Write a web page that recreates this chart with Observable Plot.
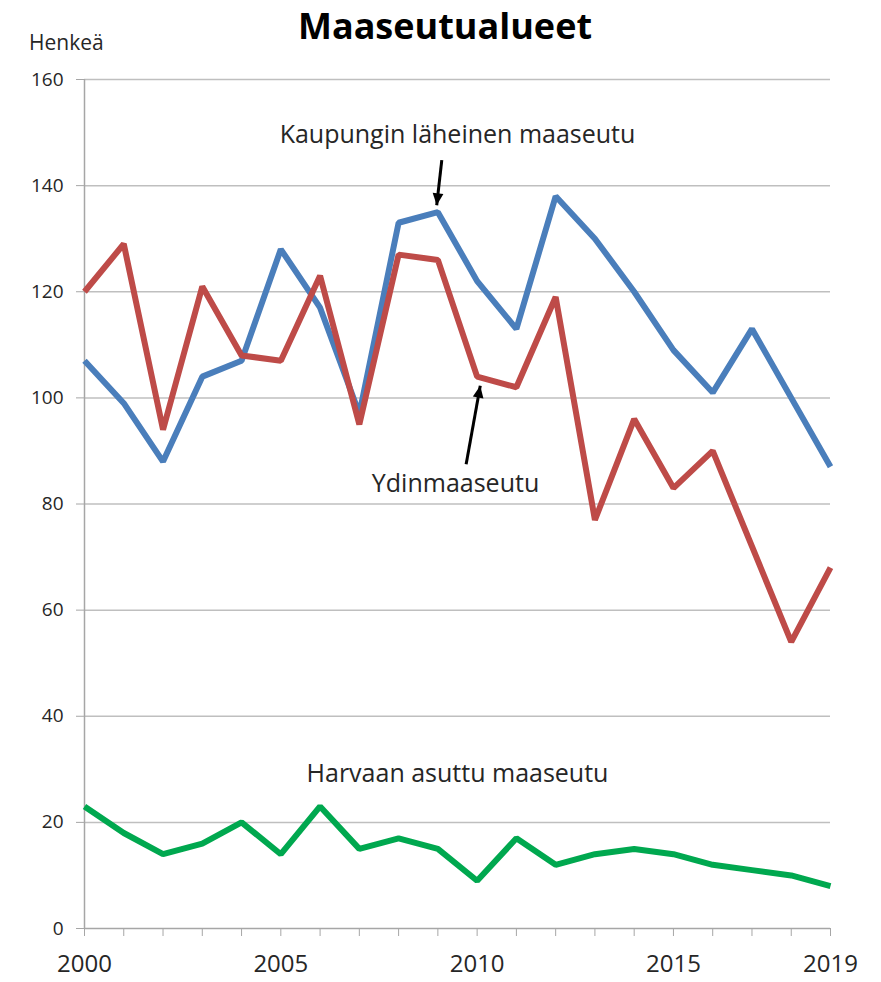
<!DOCTYPE html>
<html><head><meta charset="utf-8">
<script src="https://cdn.jsdelivr.net/npm/d3@7"></script>
<script src="https://cdn.jsdelivr.net/npm/@observablehq/plot@0.6"></script>
<style>
body{margin:0;background:#fff;}
#wrap{position:relative;width:881px;height:982px;font-family:"Open Sans",sans-serif}
#title{position:absolute;left:0;width:890px;top:6px;line-height:40px;text-align:center;font-weight:bold;font-size:36px;color:#000}
#unit{position:absolute;left:29px;top:29px;line-height:26px;font-size:21px;color:#262626}
</style></head>
<body><div id="wrap"><div id="chart"></div><div id="title">Maaseutualueet</div><div id="unit">Henkeä</div></div>
<script>
const years = [2000,2001,2002,2003,2004,2005,2006,2007,2008,2009,2010,2011,2012,2013,2014,2015,2016,2017,2018,2019];
const kaupunginLaheinen = [107,99,88,104,107,128,117,97,133,135,122,113,138,130,120,109,101,113,100,87];
const ydinmaaseutu = [120,129,94,121,108,107,123,95,127,126,104,102,119,77,96,83,90,72,54,68];
const harvaanAsuttu = [23,18,14,16,20,14,23,15,17,15,9,17,12,14,15,14,12,11,10,8];
const xTickLabels = [2000,2005,2010,2015,2019];
const yTicks = [0,20,40,60,80,100,120,140,160];

const seriesNames = ["Kaupungin läheinen maaseutu","Ydinmaaseutu","Harvaan asuttu maaseutu"];
const seriesValues = [kaupunginLaheinen, ydinmaaseutu, harvaanAsuttu];
const seriesColors = ["#4A7EBB","#BE4B48","#00A84F"];

const rows = [];
seriesNames.forEach((s, k) => years.forEach((yr, i) => rows.push({series: s, year: yr, value: seriesValues[k][i]})));

// annotation placement (data coordinates)
const labels = [
  {text: "Kaupungin läheinen maaseutu", x: 2009.5, y: 149.6},
  {text: "Ydinmaaseutu", x: 2009.45, y: 83.8},
  {text: "Harvaan asuttu maaseutu", x: 2009.5, y: 29.2}
];
const arrows = [
  {x1: 2009.1, y1: 144.8, x2: 2008.97, y2: 136.3},
  {x1: 2009.72, y1: 87.5, x2: 2010.08, y2: 102.3}
];

function filledArrow(color) {
  const m = document.createElementNS("http://www.w3.org/2000/svg", "marker");
  m.setAttribute("viewBox", "0 -5 10 10");
  m.setAttribute("refX", "10");
  m.setAttribute("refY", "0");
  m.setAttribute("markerUnits", "userSpaceOnUse");
  m.setAttribute("markerWidth", "14");
  m.setAttribute("markerHeight", "12");
  m.setAttribute("orient", "auto");
  const p = document.createElementNS("http://www.w3.org/2000/svg", "path");
  p.setAttribute("d", "M0,-4.5L10,0L0,4.5Z");
  p.setAttribute("fill", color);
  p.setAttribute("stroke", "none");
  m.appendChild(p);
  return m;
}

const chart = Plot.plot({
  width: 881, height: 982,
  marginTop: 79, marginLeft: 84, marginRight: 51, marginBottom: 54,
  style: {fontFamily: "'Open Sans', sans-serif", background: "#fff", overflow: "visible"},
  x: {domain: [2000, 2019]},
  y: {domain: [0, 160]},
  color: {domain: seriesNames, range: seriesColors},
  marks: [
    Plot.gridY(yTicks.filter(d => d > 0), {stroke: "#BFBFBF", strokeOpacity: 1, strokeWidth: 1.5}),
    Plot.ruleX([2000], {stroke: "#A6A6A6", strokeWidth: 1.5}),
    Plot.ruleY([0], {stroke: "#A6A6A6", strokeWidth: 1.5}),
    Plot.axisY({ticks: yTicks, tickSize: 8, tickPadding: 13, fontSize: 19, color: "#262626", stroke: "#A6A6A6", label: null}),
    Plot.axisX({ticks: years, tickSize: 8, tickFormat: () => "", stroke: "#A6A6A6", label: null}),
    Plot.axisX({ticks: xTickLabels, tickSize: 0, tickPadding: 26, tickFormat: d => String(d), fontSize: 24, color: "#262626", label: null}),
    Plot.line(rows, {x: "year", y: "value", z: "series", stroke: "series", strokeWidth: 6, strokeLinejoin: "miter", strokeLinecap: "butt"}),
    Plot.text(labels, {x: "x", y: "y", text: "text", fontSize: 25, fill: "#262626"}),
    Plot.link(arrows, {x1: "x1", y1: "y1", x2: "x2", y2: "y2", stroke: "#000", strokeWidth: 3, markerEnd: filledArrow})
  ]
});
document.getElementById("chart").appendChild(chart);
</script>
</body></html>
